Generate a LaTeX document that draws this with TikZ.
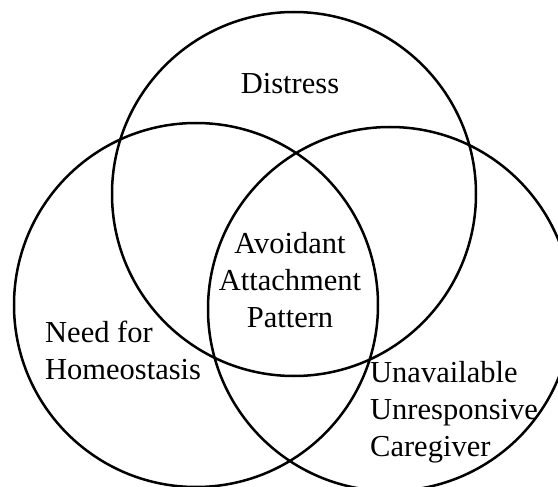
\documentclass[tikz,border=0pt]{standalone}
\usepackage{fontspec}
\setmainfont{Liberation Serif}
\begin{document}
\begin{tikzpicture}[x=1pt,y=-1pt,
  ring/.style={draw=black,line width=2.5pt,circle,minimum size=364pt,inner sep=0pt},
  label/.style={inner sep=0pt,font={\fontsize{30.5}{37}\selectfont}}]
  \useasboundingbox (0,0) rectangle (558,487);
  \clip (0,0) rectangle (558,487);
  % three overlapping sets
  \node[ring] (top)   at (294,194) {};
  \node[ring] (left)  at (196,305) {};
  \node[ring] (right) at (390,309) {};
  % set labels
  \node[label,anchor=north] (distress) at (290,73) {Distress};
  \node[label,anchor=north,align=center] (core) at (290,232) {Avoidant\\Attachment\\Pattern};
  \node[label,anchor=north west,align=left] (need) at (45,321) {Need for\\Homeostasis};
  \node[label,anchor=north west,align=left] (care) at (370,361) {Unavailable\\Unresponsive\\Caregiver};
\end{tikzpicture}
\end{document}
